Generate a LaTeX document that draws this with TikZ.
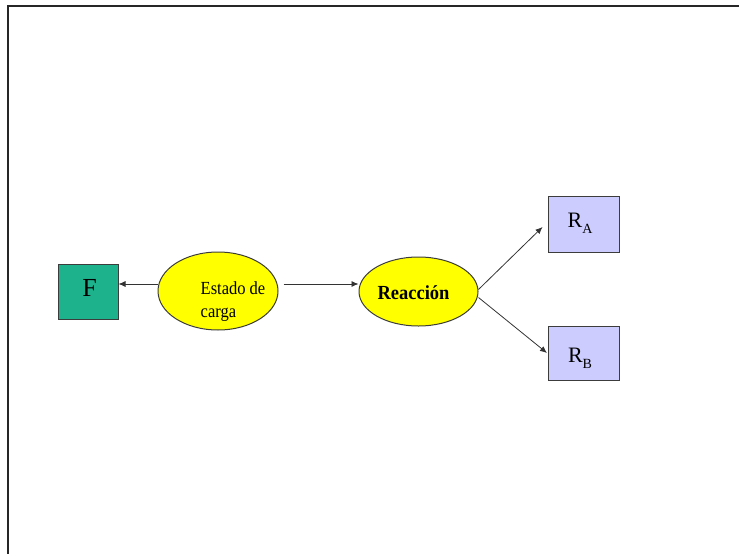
\documentclass[tikz,border=0pt]{standalone}
\usepackage{fontspec}
\setmainfont{Liberation Serif}
\usetikzlibrary{shapes.geometric,arrows.meta}
\definecolor{teal1}{RGB}{30,178,140}
\definecolor{lav}{RGB}{204,204,255}
\definecolor{yel}{RGB}{255,255,0}
\definecolor{edge}{RGB}{60,60,60}
\tikzset{
  box/.style={draw=edge,line width=1pt,rectangle,inner sep=0pt},
  oval/.style={draw=edge,line width=1pt,ellipse,fill=yel,inner sep=0pt},
  txt/.style={inner sep=0pt,anchor=base west},
  arr/.style={draw=black!80,line width=0.8pt,-{Latex[length=7pt,width=6pt]}}
}
\newcommand{\sub}[1]{\raisebox{-0.3em}{\fontsize{14pt}{14pt}\selectfont #1}}
\begin{document}
\begin{tikzpicture}[x=1pt,y=-1pt]
\useasboundingbox (0,0) rectangle (739,554);
% frame
\draw[line width=2pt,black!85] (7.5,554) -- (7.5,5.5) -- (739,5.5);
% nodes
\node[box,fill=teal1,minimum width=60pt,minimum height=55pt] (F) at (88,291.5) {};
\node[txt,anchor=base] (Ft) at (89.5,296) {\fontsize{26pt}{26pt}\selectfont F};
\node[oval,minimum width=120pt,minimum height=78pt] (est) at (218,291) {};
\node[txt] (est1) at (200.5,294) {\fontsize{16.5pt}{16.5pt}\selectfont\scalebox{1}[1.12]{Estado de}};
\node[txt] (est2) at (200.5,317) {\fontsize{16.5pt}{16.5pt}\selectfont\scalebox{1}[1.12]{carga}};
\node[oval,minimum width=119pt,minimum height=69pt] (rea) at (418.5,291.5) {};
\node[txt,anchor=base] (reat) at (413.5,299) {\fontsize{18.5pt}{18.5pt}\selectfont\bfseries\scalebox{1}[1.08]{Reacción}};
\node[box,fill=lav,minimum width=71pt,minimum height=56pt] (ra) at (583.5,224) {};
\node[txt,anchor=base] (rat) at (580,227) {\fontsize{22pt}{22pt}\selectfont R\sub{A}};
\node[box,fill=lav,minimum width=71pt,minimum height=54pt] (rb) at (583.5,353) {};
\node[txt,anchor=base] (rbt) at (580,362) {\fontsize{22pt}{22pt}\selectfont R\sub{B}};
% connectors
\draw[arr] ([yshift=7pt]est.west) -- ([yshift=7.5pt]F.east);
\draw[arr] ([shift={(5pt,7pt)}]est.east) -- ([yshift=7.5pt]rea.west);
\draw[arr] ([yshift=2pt]rea.east) -- ([shift={(-5pt,-3pt)}]ra.west);
\draw[arr] ([yshift=-6pt]rea.east) -- ([xshift=-0.5pt]rb.west);
\end{tikzpicture}
\end{document}
